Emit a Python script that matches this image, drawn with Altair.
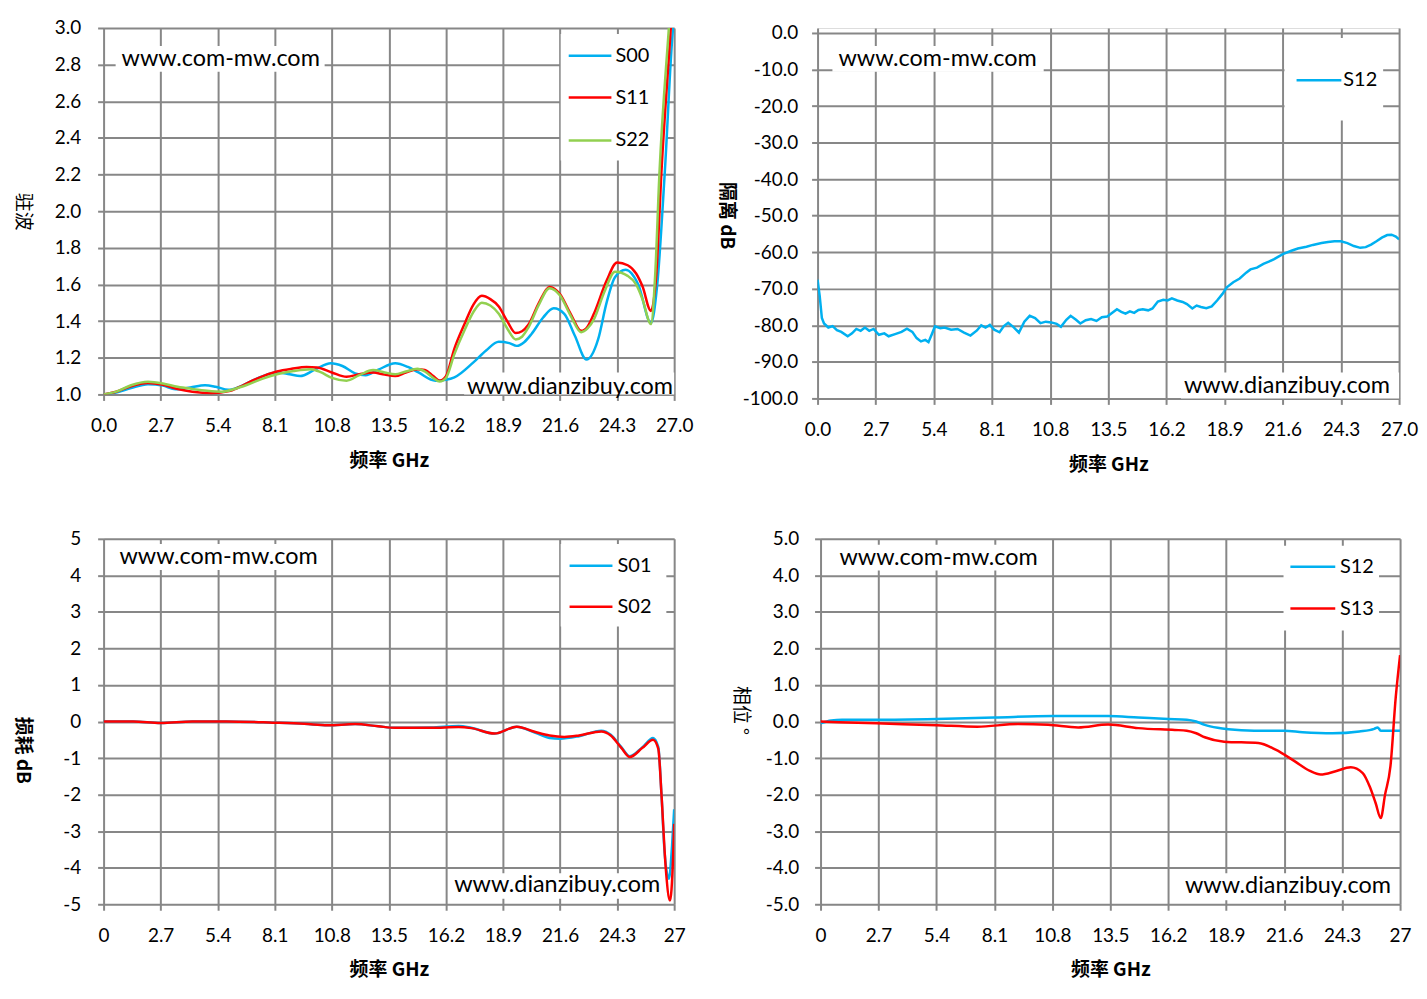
import altair as alt
import pandas as pd

FONT = "Lato"
CJK = "Noto Sans CJK SC"
GRID = "#878787"
BLUE = "#00B0F0"
RED = "#FF0000"
GREEN = "#92D050"

freq_ticks = [0, 2.7, 5.4, 8.1, 10.8, 13.5, 16.2, 18.9, 21.6, 24.3, 27.0]
vswr_ticks = [1.0, 1.2, 1.4, 1.6, 1.8, 2.0, 2.2, 2.4, 2.6, 2.8, 3.0]
iso_ticks = [-100, -90, -80, -70, -60, -50, -40, -30, -20, -10, 0]
loss_ticks = [-5, -4, -3, -2, -1, 0, 1, 2, 3, 4, 5]
phase_ticks = [-5, -4, -3, -2, -1, 0, 1, 2, 3, 4, 5]

# ---------------- VSWR (top-left) ----------------
s00_f = [0.0, 0.6, 1.3, 2.1, 2.8, 3.4, 4.1, 4.8, 5.3, 5.9, 6.5, 7.2, 8.2, 8.8, 9.3, 10.0, 10.75, 11.3,
         11.9, 12.4, 13.0, 13.8, 14.4, 14.9, 15.7, 16.2, 16.6, 17.5, 18.1, 18.7, 19.2, 19.55, 19.9,
         20.25, 20.8, 21.3, 21.8, 22.3, 22.85, 23.4, 23.8, 24.2, 24.7, 25.3, 25.9, 26.2, 26.56, 26.95, 27.0]
s00_v = [1.0, 1.01, 1.035, 1.056, 1.048, 1.028, 1.038, 1.05, 1.042, 1.025, 1.045, 1.084, 1.12, 1.11,
         1.10, 1.135, 1.17, 1.155, 1.115, 1.105, 1.135, 1.17, 1.15, 1.12, 1.075, 1.08, 1.093, 1.175,
         1.24, 1.287, 1.28, 1.265, 1.285, 1.33, 1.42, 1.47, 1.44, 1.32, 1.19, 1.30, 1.50, 1.64, 1.68,
         1.60, 1.39, 1.60, 2.22, 3.0, 3.05]

s11_f = [0.0, 0.6, 1.3, 2.1, 2.8, 3.5, 4.2, 5.1, 6.0, 6.6, 7.2, 8.2, 8.9, 9.6, 10.1, 10.8, 11.5, 12.1,
         12.75, 13.3, 13.8, 14.3, 14.85, 15.2, 15.6, 15.9, 16.2, 16.6, 17.1, 17.5, 17.9, 18.3, 18.7,
         19.1, 19.5, 19.8, 20.1, 20.6, 21.1, 21.6, 22.1, 22.6, 22.9, 23.2, 23.8, 24.3, 24.8, 25.2,
         25.5, 25.9, 26.16, 26.4, 26.84, 27.0]
s11_v = [1.0, 1.015, 1.045, 1.062, 1.052, 1.03, 1.015, 1.007, 1.02, 1.05, 1.084, 1.125, 1.14, 1.15,
         1.147, 1.12, 1.096, 1.11, 1.12, 1.108, 1.10, 1.12, 1.138, 1.134, 1.10, 1.075, 1.10, 1.25,
         1.39, 1.49, 1.538, 1.52, 1.48, 1.40, 1.335, 1.345, 1.38, 1.50, 1.587, 1.547, 1.44, 1.347,
         1.37, 1.44, 1.62, 1.72, 1.705, 1.66, 1.59, 1.456, 1.665, 2.22, 3.0, 3.3]

s22_f = [0.0, 0.6, 1.3, 2.1, 2.8, 3.5, 4.2, 4.9, 5.6, 6.2, 6.8, 7.5, 8.2, 9.0, 9.8, 10.3, 10.8, 11.5,
         12.1, 12.75, 13.3, 13.8, 14.3, 14.85, 15.2, 15.6, 15.9, 16.2, 16.6, 17.1, 17.5, 17.9, 18.3,
         18.7, 19.1, 19.5, 19.8, 20.1, 20.6, 21.1, 21.6, 22.1, 22.6, 22.9, 23.2, 23.7, 24.2, 24.8,
         25.2, 25.5, 25.9, 26.1, 26.3, 26.75, 27.0]
s22_v = [1.0, 1.015, 1.05, 1.069, 1.06, 1.042, 1.03, 1.02, 1.015, 1.03, 1.053, 1.085, 1.11, 1.128,
         1.138, 1.12, 1.09, 1.075, 1.105, 1.133, 1.12, 1.11, 1.125, 1.14, 1.125, 1.09, 1.07, 1.09,
         1.22, 1.356, 1.45, 1.50, 1.485, 1.44, 1.36, 1.30, 1.315, 1.365, 1.49, 1.58, 1.54, 1.43,
         1.34, 1.36, 1.41, 1.56, 1.67, 1.647, 1.60, 1.52, 1.384, 1.65, 2.2, 3.0, 3.4]

# ---------------- Isolation (top-right) ----------------
iso_f = [0.0, 0.1, 0.2, 0.3, 0.5, 0.7, 0.9, 1.1, 1.4, 1.6, 1.8, 2.0, 2.2, 2.4, 2.6, 2.85, 3.1, 3.3,
         3.6, 3.9, 4.15, 4.4, 4.6, 4.8, 5.0, 5.15, 5.3, 5.45, 5.7, 5.9, 6.2, 6.5, 6.8, 7.1, 7.4, 7.6,
         7.8, 8.0, 8.2, 8.45, 8.65, 8.85, 9.1, 9.35, 9.6, 9.85, 10.1, 10.35, 10.6, 10.85, 11.1, 11.3,
         11.55, 11.75, 12.0, 12.2, 12.45, 12.7, 12.95, 13.2, 13.45, 13.7, 13.9, 14.1, 14.3, 14.5,
         14.7, 14.9, 15.1, 15.35, 15.55, 15.8, 16.05, 16.25, 16.45, 16.7, 16.95, 17.15, 17.4, 17.6,
         17.8, 18.05, 18.3, 18.55, 18.8, 19.0, 19.3, 19.6, 19.9, 20.1, 20.4, 20.7, 20.95, 21.2,
         21.6, 22.0, 22.3, 22.7, 23.0, 23.4, 23.7, 24.0, 24.3, 24.6, 24.9, 25.2, 25.45, 25.7,
         25.95, 26.2, 26.45, 26.65, 26.85, 27.0]
iso_v = [-67.5, -72.0, -78.0, -79.5, -80.6, -80.2, -81.3, -81.8, -83.0, -82.2, -81.0, -81.5, -80.6,
         -81.5, -81.0, -82.6, -82.2, -83.0, -82.4, -81.8, -80.9, -81.8, -83.5, -84.4, -84.0, -84.6,
         -82.5, -80.3, -80.8, -80.6, -81.2, -81.0, -82.0, -82.8, -81.4, -80.0, -80.6, -79.9, -81.2,
         -81.9, -80.2, -79.3, -80.5, -82.0, -79.0, -77.4, -78.0, -79.4, -79.0, -79.2, -79.6, -80.4,
         -78.5, -77.4, -78.5, -79.5, -78.6, -78.3, -78.8, -77.8, -77.6, -76.5, -75.6, -76.3, -76.8,
         -76.2, -76.6, -75.8, -75.6, -75.9, -75.4, -73.5, -73.0, -73.2, -72.6, -73.2, -73.6, -74.2,
         -75.4, -74.6, -75.0, -75.3, -74.8, -73.2, -71.4, -69.6, -68.2, -67.2, -65.6, -64.7, -64.2,
         -63.2, -62.6, -61.9, -60.5, -59.6, -59.0, -58.5, -58.0, -57.5, -57.2, -57.0, -57.0, -57.5,
         -58.3, -58.8, -58.6, -57.9, -57.0, -56.0, -55.3, -55.2, -55.7, -56.5]

# ---------------- Insertion loss (bottom-left) ----------------
s01_f = [0.0, 1.4, 2.7, 4.2, 5.8, 8.0, 9.5, 10.6, 11.9, 13.0, 13.8, 15.5, 16.8, 17.4, 18.5, 19.55,
         20.4, 21.1, 21.6, 22.5, 23.55, 24.0, 24.5, 24.9, 25.5, 26.0, 26.25, 26.4, 26.55, 26.75,
         26.9, 27.0]
s01_v = [0.0, 0.0, -0.04, 0.0, 0.0, -0.03, -0.06, -0.1, -0.07, -0.13, -0.17, -0.16, -0.12, -0.17,
         -0.33, -0.14, -0.3, -0.45, -0.47, -0.4, -0.25, -0.36, -0.7, -0.95, -0.7, -0.45, -0.7, -2.0,
         -3.6, -4.3, -3.4, -2.4]
s02_f = [0.0, 1.4, 2.7, 4.2, 5.8, 8.0, 9.5, 10.6, 11.9, 13.0, 13.8, 15.5, 16.8, 17.4, 18.5, 19.55,
         20.4, 21.1, 21.8, 22.5, 23.55, 24.0, 24.5, 24.9, 25.5, 26.0, 26.25, 26.4, 26.6, 26.8,
         26.95, 27.0]
s02_v = [0.0, 0.0, -0.04, 0.0, 0.0, -0.03, -0.06, -0.1, -0.07, -0.13, -0.17, -0.17, -0.15, -0.18,
         -0.33, -0.14, -0.28, -0.38, -0.42, -0.38, -0.27, -0.38, -0.72, -0.97, -0.72, -0.5, -0.75,
         -2.0, -4.0, -4.9, -3.7, -2.8]

# ---------------- Phase (bottom-right) ----------------
p12_f = [0.0, 0.5, 1.0, 2.6, 5.4, 8.1, 10.8, 13.4, 14.8, 16.2, 17.06, 17.5, 17.9, 18.5, 19.0, 20.2,
         21.6, 22.46, 23.86, 25.1, 25.8, 25.95, 26.1, 27.0]
p12_v = [-0.05, 0.03, 0.05, 0.05, 0.07, 0.11, 0.15, 0.15, 0.11, 0.07, 0.05, 0.0, -0.09, -0.17, -0.21,
         -0.25, -0.25, -0.29, -0.32, -0.27, -0.2, -0.16, -0.25, -0.25]
p13_f = [0.0, 2.6, 5.4, 7.3, 9.2, 10.6, 12.0, 13.4, 14.8, 16.5, 17.06, 17.5, 17.9, 18.8, 20.4, 21.2,
         22.1, 22.8, 23.3, 24.0, 24.7, 25.26, 25.6, 25.86, 26.1, 26.3, 26.55, 26.8, 27.0]
p13_v = [0.0, -0.05, -0.1, -0.14, -0.07, -0.09, -0.16, -0.08, -0.18, -0.23, -0.25, -0.32, -0.43,
         -0.55, -0.59, -0.77, -1.09, -1.35, -1.45, -1.36, -1.25, -1.41, -1.8, -2.23, -2.64, -2.0,
         -1.23, 0.68, 1.82]

WM1 = "www.com-mw.com"
WM2 = "www.dianzibuy.com"

X_FMT_1F = "format(datum.value, '.1f')"
X_FMT_SHORT = "replace(format(datum.value, '.1f'), '.0', '')"


def long_df(pairs):
    rows = []
    for name, fs, vs in pairs:
        for a, b in zip(fs, vs):
            rows.append({"f": a, "v": b, "s": name})
    return pd.DataFrame(rows)


def panel(pairs, colors, ydom, yticks, yfmt, xexpr, ytitle, yweight, tx, ty, w, h, ypad,
          boxes, marks_left, marks_right, legend, interp):
    names = [p[0] for p in pairs]
    df = long_df(pairs)
    cscale = alt.Scale(domain=names, range=colors)
    xscale = alt.Scale(domain=[0, 27], nice=False, zero=False)
    x_enc = alt.X("f:Q", scale=xscale,
                  axis=alt.Axis(values=freq_ticks, labelExpr=xexpr, grid=True, gridColor=GRID,
                                gridWidth=2, domain=False, tickColor=GRID, tickWidth=2,
                                tickSize=6, labelFont=FONT, labelFontSize=19, labelColor="black",
                                labelPadding=16, labelFlush=False, labelOverlap=False,
                                title="频率 GHz", titleFont=CJK, titleFontSize=19,
                                titleFontWeight="bold", titleColor="black", titlePadding=16))
    y_enc = alt.Y("v:Q", scale=alt.Scale(domain=ydom, nice=False, zero=False),
                  axis=alt.Axis(values=yticks, format=yfmt, grid=True, gridColor=GRID,
                                gridWidth=2, domain=False, tickColor=GRID, tickWidth=2,
                                tickSize=6, labelFont=FONT, labelFontSize=19, labelColor="black",
                                labelPadding=ypad, labelFlush=False, labelOverlap=False,
                                title=ytitle, titleFont=CJK, titleFontSize=19,
                                titleFontWeight=yweight, titleColor="black", titleAngle=90,
                                titleX=tx, titleY=ty, titleAlign="center",
                                titleBaseline="middle"))
    layers = []
    # white boxes behind watermarks and legend
    bdf = pd.DataFrame(boxes, columns=["f", "f2", "v", "v2"])
    layers.append(alt.Chart(bdf).mark_rect(color="white").encode(
        x=x_enc, x2="f2:Q", y=y_enc, y2="v2:Q"))
    # watermarks
    ldf = pd.DataFrame([marks_left], columns=["f", "v", "t"])
    layers.append(alt.Chart(ldf).mark_text(align="left", baseline="middle", font=FONT,
                                           fontSize=23.5, color="black").encode(
        x=x_enc, y=y_enc, text="t:N"))
    rdf = pd.DataFrame([marks_right], columns=["f", "v", "t"])
    layers.append(alt.Chart(rdf).mark_text(align="right", baseline="middle", font=FONT,
                                           fontSize=23.5, color="black").encode(
        x=x_enc, y=y_enc, text="t:N"))
    # legend entries
    lf1, lf2, ltx, lvs = legend
    gdf = pd.DataFrame({"f": [lf1] * len(names), "f2": [lf2] * len(names), "v": lvs,
                        "s": names, "ft": [ltx] * len(names)})
    layers.append(alt.Chart(gdf).mark_rule(strokeWidth=2.5).encode(
        x=x_enc, x2="f2:Q", y=y_enc,
        color=alt.Color("s:N", scale=cscale, legend=None)))
    layers.append(alt.Chart(gdf).mark_text(align="left", baseline="middle", font=FONT,
                                           fontSize=20, color="black").encode(
        x=alt.X("ft:Q", scale=xscale), y=y_enc, text="s:N"))
    # data lines
    for name in names:
        layers.append(alt.Chart(df[df.s == name]).mark_line(
            strokeWidth=2.5, clip=True, interpolate=interp).encode(
            x=x_enc, y=y_enc, color=alt.Color("s:N", scale=cscale, legend=None)))
    return alt.layer(*layers).properties(width=w, height=h)


tl = panel([("S00", s00_f, s00_v), ("S11", s11_f, s11_v), ("S22", s22_f, s22_v)],
           [BLUE, RED, GREEN], [1, 3], vswr_ticks, ".1f", X_FMT_1F, "驻波", "normal", -81, 184,
           573, 368, 17,
           boxes=[[0.57, 10.46, 2.902, 2.761], [17.06, 27.0, 1.12, 1.0],
                  [21.63, 26.63, 2.967, 2.277]],
           marks_left=[0.85, 2.83, WM1], marks_right=[26.95, 1.043, WM2],
           legend=(22.01, 24.03, 24.22, [2.848, 2.620, 2.386]), interp="monotone")

# the isolation panel sits 5 px lower than its neighbour: its scale reaches a little above 0 dB
tr = panel([("S12", iso_f, iso_v)], [BLUE], [-100, 1.36], iso_ticks, ".1f", X_FMT_1F, "隔离 dB",
           "bold", -91, 188, 584, 372, 14,
           boxes=[[0.69, 10.5, -3.54, -10.6], [16.87, 27.0, -92.9, -100.0],
                  [21.68, 26.26, -1.36, -23.98]],
           marks_left=[0.97, -7.08, WM1], marks_right=[26.58, -96.7, WM2],
           legend=(22.24, 24.32, 24.41, [-12.94]), interp="linear")

bl = panel([("S01", s01_f, s01_v), ("S02", s02_f, s02_v)], [BLUE, RED], [-5, 5], loss_ticks,
           "d", X_FMT_SHORT, "损耗 dB", "bold", -81, 212, 573, 367, 17,
           boxes=[[0.47, 10.46, 4.86, 4.15], [16.45, 26.63, -4.15, -4.85],
                  [21.63, 26.63, 4.86, 2.60]],
           marks_left=[0.75, 4.51, WM1], marks_right=[26.34, -4.48, WM2],
           legend=(22.05, 24.08, 24.32, [4.26, 3.14]), interp="monotone")

br = panel([("S12", p12_f, p12_v), ("S13", p13_f, p13_v)], [BLUE, RED], [-5, 5], phase_ticks,
           ".1f", X_FMT_SHORT, "相位 °", "normal", -80, 172, 582, 367, 16,
           boxes=[[0.6, 10.44, 4.84, 4.13], [16.84, 26.9, -4.15, -4.89],
                  [21.57, 26.02, 4.81, 2.49]],
           marks_left=[0.88, 4.48, WM1], marks_right=[26.58, -4.51, WM2],
           legend=(21.89, 23.98, 24.2, [4.235, 3.09]), interp="monotone")

top = alt.hconcat(tl, tr, spacing=22).resolve_scale(color="independent")
bottom = alt.hconcat(bl, br, spacing=44).resolve_scale(color="independent")
chart = alt.vconcat(top, bottom, spacing=54).resolve_scale(color="independent").properties(
    padding={"left": 4, "top": 8, "right": 0, "bottom": 0}
).configure_view(stroke=None).configure(
    locale={"number": {"decimal": ".", "thousands": ",", "grouping": [3],
                       "currency": ["", ""], "minus": "-"}}
)

chart.save("out.html", embed_options={"renderer": "svg", "actions": False})
